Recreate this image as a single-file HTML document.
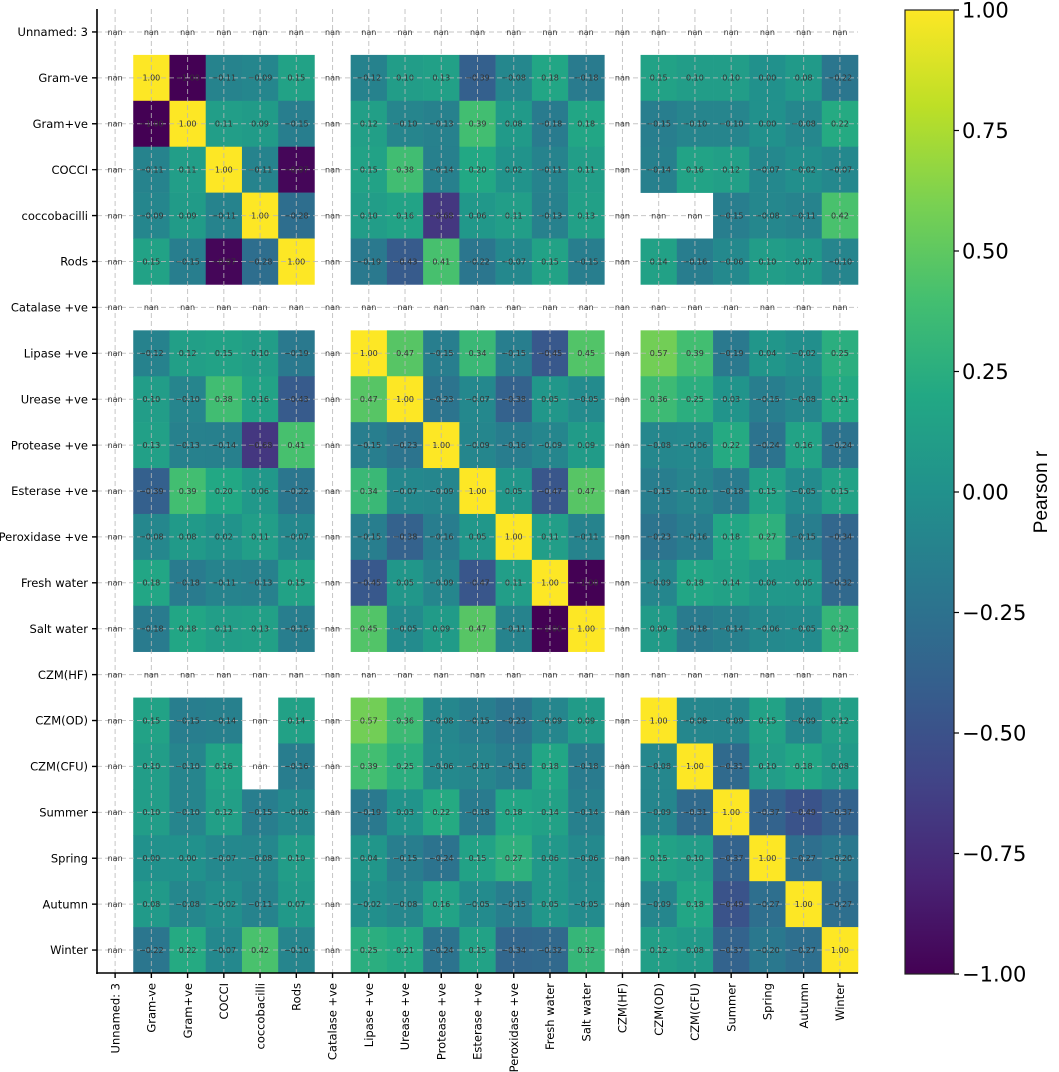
<!DOCTYPE html>
<html><head><meta charset="utf-8">
<style>
html,body{margin:0;padding:0;background:#fff;}
svg{display:block;font-family:"DejaVu Sans","Liberation Sans",sans-serif;}
</style></head>
<body>
<svg id="chart" width="1059" height="1072" viewBox="0 0 1059 1072" xmlns="http://www.w3.org/2000/svg">
<defs>
<linearGradient id="vir" x1="0" y1="1" x2="0" y2="0">
<stop offset="0" stop-color="#440154"/><stop offset="0.1" stop-color="#482475"/><stop offset="0.2" stop-color="#414487"/><stop offset="0.3" stop-color="#355f8d"/><stop offset="0.4" stop-color="#2a788e"/><stop offset="0.5" stop-color="#21918c"/><stop offset="0.6" stop-color="#22a884"/><stop offset="0.7" stop-color="#44bf70"/><stop offset="0.8" stop-color="#7ad151"/><stop offset="0.9" stop-color="#bddf26"/><stop offset="1" stop-color="#fde725"/>
</linearGradient>
</defs>
<g id="cells"></g>
<g id="grid"></g>
<g id="annot"></g>
<g id="axes"></g>
<g id="cbar"></g>
</svg>
<script>
const labels = ["Unnamed: 3","Gram-ve","Gram+ve","COCCI","coccobacilli","Rods","Catalase +ve","Lipase +ve","Urease +ve","Protease +ve","Esterase +ve","Peroxidase +ve","Fresh water","Salt water","CZM(HF)","CZM(OD)","CZM(CFU)","Summer","Spring","Autumn","Winter"];
const nanCols = [0, 6, 14];
const upperGN  = [-1.00,-0.11,-0.09,0.15,-0.12,0.10,0.13,-0.39,-0.08,0.18,-0.18,0.15,0.10,0.10,-0.00,0.08,-0.22];
const upperGP  = [0.11,0.09,-0.15,0.12,-0.10,-0.13,0.39,0.08,-0.18,0.18,-0.15,-0.10,-0.10,0.00,-0.08,0.22];
const upperCO  = [-0.11,-0.97,0.15,0.38,-0.14,0.20,0.02,-0.11,0.11,-0.14,0.16,0.12,-0.07,-0.02,-0.07];
const upperCB  = [-0.28,0.10,0.16,-0.68,0.06,0.11,-0.13,0.13,null,null,-0.15,-0.08,-0.11,0.42];
const upperRO  = [-0.19,-0.43,0.41,-0.22,-0.07,0.15,-0.15,0.14,-0.16,-0.06,0.10,0.07,-0.10];
const upperLI  = [0.47,-0.15,0.34,-0.15,-0.45,0.45,0.57,0.39,-0.19,0.04,-0.02,0.25];
const upperUR  = [-0.23,-0.07,-0.38,0.05,-0.05,0.36,0.25,0.03,-0.15,-0.08,0.21];
const upperPR  = [-0.09,-0.16,-0.09,0.09,-0.08,-0.06,0.22,-0.24,0.16,-0.24];
const upperES  = [0.05,-0.47,0.47,-0.15,-0.10,-0.18,0.15,-0.05,0.15];
const upperPE  = [0.11,-0.11,-0.23,-0.16,0.18,0.27,-0.15,-0.34];
const upperFW  = [-1.00,-0.09,0.18,0.14,0.06,0.05,-0.32];
const upperSW  = [0.09,-0.18,-0.14,-0.06,-0.05,0.32];
const upperOD  = [-0.08,-0.09,0.15,-0.09,0.12];
const upperCFU = [-0.31,0.10,0.18,0.08];
const upperSU  = [-0.37,-0.49,-0.37];
const upperSP  = [-0.27,-0.20];
const upperAU  = [-0.27];
const upperRows = [upperGN,upperGP,upperCO,upperCB,upperRO,upperLI,upperUR,upperPR,upperES,upperPE,upperFW,upperSW,upperOD,upperCFU,upperSU,upperSP,upperAU,[]];
const cbTicks = [1.00,0.75,0.50,0.25,0.00,-0.25,-0.50,-0.75,-1.00];

const NS = "http://www.w3.org/2000/svg";
const X0 = 97, X1 = 858, Y0 = 9, Y1 = 973;
const n = labels.length;
const cw = (X1 - X0) / n, rh = (Y1 - Y0) / n;
const xC = i => X0 + (i + 0.5) * cw;
const yC = i => Y0 + (i + 0.5) * rh;
const cbY = v => 974 - (v + 1) / 2 * (974 - 10);

const vir = ["#440154","#482475","#414487","#355f8d","#2a788e","#21918c","#22a884","#44bf70","#7ad151","#bddf26","#fde725"];
function hex(h){return [1,3,5].map(k=>parseInt(h.substr(k,2),16));}
function color(v){
  let t = Math.max(0, Math.min(1, (v + 1) / 2)) * 10;
  let i = Math.min(9, Math.floor(t)), f = t - i;
  const a = hex(vir[i]), b = hex(vir[i+1]);
  return "rgb(" + a.map((c,k)=>Math.round(c + (b[k]-c)*f)).join(",") + ")";
}
function mk(tag, attrs, parent){
  const e = document.createElementNS(NS, tag);
  for (const k in attrs) e.setAttribute(k, attrs[k]);
  parent.appendChild(e);
  return e;
}
const realIdx = [];
for (let i = 0; i < n; i++) if (!nanCols.includes(i)) realIdx.push(i);
const M = [];
for (let i = 0; i < n; i++) { M.push(new Array(n).fill(NaN)); }
for (let a = 0; a < realIdx.length; a++) {
  M[realIdx[a]][realIdx[a]] = 1;
  const row = upperRows[a];
  for (let k = 0; k < row.length; k++) {
    const b = a + 1 + k;
    const v = row[k] === null ? NaN : row[k];
    M[realIdx[a]][realIdx[b]] = v;
    M[realIdx[b]][realIdx[a]] = v;
  }
}
const gCells = document.getElementById("cells");
const gAnnot = document.getElementById("annot");
const gGrid = document.getElementById("grid");
const gAxes = document.getElementById("axes");
const gCb = document.getElementById("cbar");

for (let r = 0; r < n; r++) {
  for (let c = 0; c < n; c++) {
    const v = M[r][c];
    if (!isNaN(v)) {
      const rc = mk("rect", {x: X0 + c*cw, y: Y0 + r*rh, width: cw + 0.3, height: rh + 0.3, fill: color(v)}, gCells);
      
      
    }
    const t = mk("text", {x: xC(c), y: yC(r) + 2.8, "font-size": 8, "text-anchor": "middle", fill: "#333"}, gAnnot);
    
    
    t.textContent = isNaN(v) ? "nan" : v.toFixed(2).replace("-", "−");
  }
}
for (let i = 0; i < n; i++) {
  const lv = mk("line", {x1: xC(i), x2: xC(i), y1: Y0, y2: Y1, stroke: "#b8b8b8", "stroke-width": 1, "stroke-dasharray": "5,3", opacity: 0.8}, gGrid);
  
  
  const lh = mk("line", {x1: X0, x2: X1, y1: yC(i), y2: yC(i), stroke: "#b8b8b8", "stroke-width": 1, "stroke-dasharray": "5,3", opacity: 0.8}, gGrid);
  
  
}
const sp1 = mk("line", {x1: X0, x2: X0, y1: Y0, y2: Y1 + 1, stroke: "#000", "stroke-width": 1.6}, gAxes);


const sp2 = mk("line", {x1: X0 - 0.8, x2: X1, y1: Y1, y2: Y1, stroke: "#000", "stroke-width": 1.6}, gAxes);


for (let i = 0; i < n; i++) {
  const ty = mk("line", {x1: X0 - 5, x2: X0, y1: yC(i), y2: yC(i), stroke: "#000", "stroke-width": 1.4}, gAxes);
  
  
  const ly = mk("text", {x: X0 - 9, y: yC(i) + 4.2, "font-size": 11.5, "text-anchor": "end", fill: "#000"}, gAxes);
  
  
  ly.textContent = labels[i];
  const tx = mk("line", {x1: xC(i), x2: xC(i), y1: Y1, y2: Y1 + 5, stroke: "#000", "stroke-width": 1.4}, gAxes);
  
  
  const lx = mk("text", {x: 0, y: 0, "font-size": 11.5, "text-anchor": "end", fill: "#000", transform: "translate(" + (xC(i) + 4.2) + "," + (Y1 + 10) + ") rotate(-90)"}, gAxes);
  
  
  lx.textContent = labels[i];
}
const cb = mk("rect", {x: 905, y: 10, width: 49, height: 964, fill: "url(#vir)", stroke: "#222", "stroke-width": 1.2}, gCb);


for (const v of cbTicks) {
  const y = cbY(v);
  const tl = mk("line", {x1: 954, x2: 959, y1: y, y2: y, stroke: "#000", "stroke-width": 1.2}, gCb);
  
  
  const tt = mk("text", {x: 962, y: y + 7.5, "font-size": 21, fill: "#000"}, gCb);
  
  
  tt.textContent = v.toFixed(2).replace("-", "−");
}
const cl = mk("text", {x: 0, y: 0, "font-size": 19, "text-anchor": "middle", fill: "#000", transform: "translate(1047,492) rotate(-90)", "font-family": "Liberation Sans Narrow, Liberation Sans, sans-serif"}, gCb);


cl.textContent = "Pearson r";
</script>
</body></html>
